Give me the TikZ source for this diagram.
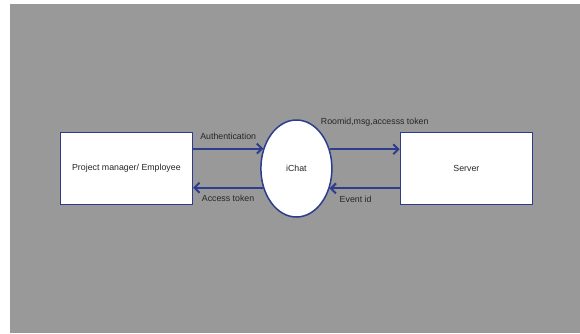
\documentclass[tikz,border=0pt]{standalone}
\usepackage{fontspec}
\setmainfont{Liberation Sans}
\usetikzlibrary{shapes.geometric, arrows.meta}
\usetikzlibrary{positioning}
\definecolor{flowblue}{RGB}{45,60,140}
\definecolor{bggray}{RGB}{153,153,153}
\tikzstyle{entity} = [rectangle, minimum width=132pt, minimum height=72pt, text centered, draw=flowblue, line width=1.4pt, fill=white, text=black!85, font=\fontsize{8.8}{10}\selectfont]
\tikzstyle{process} = [ellipse, minimum width=71pt, minimum height=97pt, inner sep=0pt, draw=flowblue, line width=1.5pt, fill=white, text=black!85, font=\fontsize{8.8}{10}\selectfont]
\tikzstyle{flow} = [line width=2pt, draw=flowblue, -{Straight Barb[length=5pt,width=10pt]}]
\tikzstyle{flowlabel} = [text=black!85, font=\fontsize{8.8}{10}\selectfont]

\begin{document}
\begin{tikzpicture}[x=1pt, y=1pt, node distance=170pt]
 \useasboundingbox (0,0) rectangle (580,-333);
 \fill [white] (0,0) rectangle (580,-333);
 \fill [bggray] (10,-4) rectangle (580,-333);

 \node (ichat) [process] at (296.4,-168.5) {iChat};
 \node (pm) [entity, left of=ichat] {Project manager/ Employee};
 \node (server) [entity, right of=ichat] {Server};

 \draw [flow] (pm.east |- ichat.149.6) -- (ichat.149.6)
   node (auth) [flowlabel, midway, above=5pt] {Authentication};
 \draw [flow] (ichat.210.4) -- (pm.east |- ichat.210.4)
   node (token) [flowlabel, midway, below=3.5pt] {Access token};

 \draw [flow] (ichat.30.4) -- (server.west |- ichat.30.4)
   node (msg) [flowlabel, midway, above=19pt, xshift=10pt] {Roomid,msg,accesss token};
 \draw [flow] (server.west |- ichat.329.6) -- (ichat.329.6)
   node (event) [flowlabel, midway, below=3pt, xshift=-9pt] {Event id};

\end{tikzpicture}
\end{document}
